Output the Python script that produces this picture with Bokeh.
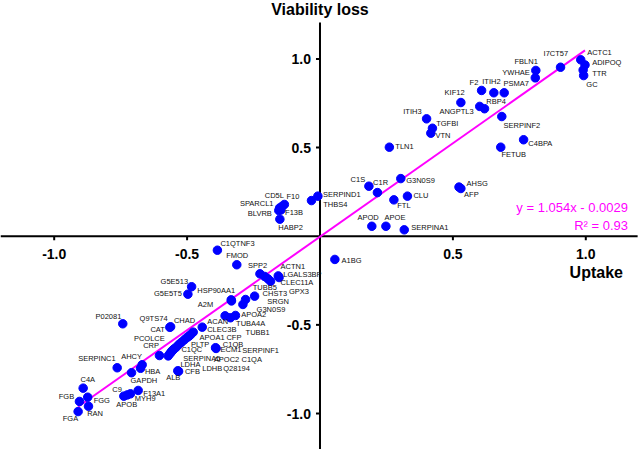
import math
from bokeh.plotting import figure
from bokeh.models import ColumnDataSource
from bokeh.core.properties import value
from bokeh.embed import file_html
from bokeh.resources import INLINE

# ---------------- data ----------------
proteins = [
    "ACTC1", "ADIPOQ", "TTR", "GC", "I7CT57", "FBLN1", "YWHAE", "F2", "ITIH2", "PSMA7",
    "KIF12", "ANGPTL3", "RBP4", "SERPINF2", "ITIH3", "TGFBI", "VTN", "TLN1", "C4BPA", "FETUB",
    "G3N0S9", "C1S", "C1R", "AHSG", "AFP", "CLU", "FTL", "APOD", "APOE", "SERPINA1",
    "SERPIND1", "THBS4", "F10", "CD5L", "SPARCL1", "BLVRB", "F13B", "HABP2", "A1BG",
    "C1QTNF3", "FMOD", "SPP2", "TUBB5", "GPX3", "CLEC11A", "ACTN1", "LGALS3BP", "CHST3", "SRGN",
    "G3N0S9", "HSP90AA1", "A2M", "APOA2", "TUBA4A", "TUBB1", "G5E513", "G5E5T5", "P02081", "Q9TS74",
    "CHAD", "ACAN", "CLEC3B", "APOA1", "CFP", "PLTP", "C1QC", "SERPINF1", "SERPINA5", "APOC2",
    "C1QA", "CAT", "LDHA", "PCOLCE", "LDHB", "Q28194", "CRP", "C1QB", "ECM1", "ALB",
    "CFB", "SERPINC1", "AHCY", "HBA", "GAPDH", "C4A", "FGB", "FGG", "FGA", "RAN",
    "C9", "APOB", "MYH9", "F13A1",
]
uptake = [
    0.981, 0.997, 0.990, 0.992, 0.905, 0.812, 0.810, 0.608, 0.654, 0.693,
    0.530, 0.601, 0.619, 0.684, 0.401, 0.423, 0.417, 0.261, 0.766, 0.680,
    0.304, 0.184, 0.216, 0.523, 0.530, 0.329, 0.278, 0.195, 0.248, 0.317,
    -0.008, -0.032, -0.134, -0.143, -0.152, -0.155, -0.147, -0.151, 0.056,
    -0.386, -0.313, -0.226, -0.208, -0.196, -0.186, -0.157, -0.154, -0.246, -0.280,
    -0.290, -0.334, -0.333, -0.318, -0.337, -0.357, -0.483, -0.497, -0.742, -0.565,
    -0.562, -0.443, -0.477, -0.487, -0.493, -0.500, -0.510, -0.521, -0.531, -0.541,
    -0.550, -0.554, -0.558, -0.561, -0.565, -0.571, -0.604, -0.393, -0.391, -0.535,
    -0.532, -0.763, -0.669, -0.675, -0.709, -0.891, -0.905, -0.874, -0.910, -0.871,
    -0.738, -0.725, -0.713, -0.684,
]
viability = [
    0.995, 0.966, 0.937, 0.906, 0.953, 0.935, 0.893, 0.822, 0.809, 0.809,
    0.754, 0.732, 0.719, 0.675, 0.662, 0.609, 0.581, 0.502, 0.544, 0.502,
    0.325, 0.282, 0.246, 0.277, 0.269, 0.226, 0.205, 0.056, 0.056, 0.036,
    0.226, 0.201, 0.179, 0.168, 0.159, 0.145, 0.148, 0.096, -0.131,
    -0.079, -0.161, -0.212, -0.227, -0.240, -0.254, -0.224, -0.233, -0.338, -0.357,
    -0.385, -0.359, -0.365, -0.447, -0.460, -0.449, -0.285, -0.327, -0.494, -0.514,
    -0.511, -0.513, -0.541, -0.556, -0.564, -0.571, -0.584, -0.598, -0.611, -0.626,
    -0.637, -0.643, -0.649, -0.656, -0.663, -0.675, -0.673, -0.629, -0.633, -0.759,
    -0.762, -0.742, -0.725, -0.745, -0.770, -0.857, -0.932, -0.908, -0.989, -0.959,
    -0.902, -0.895, -0.889, -0.870,
]

fit_slope = 1.054
fit_intercept = -0.0029
fit_r2 = 0.93

x_ticks = [-1.0, -0.5, 0.5, 1.0]
x_tick_labels = ["-1.0", "-0.5", "0.5", "1.0"]
y_ticks = [1.0, 0.5, -0.5, -1.0]
y_tick_labels = ["1.0", "0.5", "-0.5", "-1.0"]

x_title = "Uptake"
y_title = "Viability loss"

# ---------------- layout (label placement in screen pixels) ----------------
label_dx = [
    6.4, 7.2, 9, 2.7, -17, -21.3, -33, -12, -11.6, -0.7,
    -16.3, -40.3, 1.7, 1.7, -23.3, 3.7, 4.7, 6, 4.7, 0.7,
    5.4, -18.3, -4.3, 7.5, 3.2, 6, 3.4, -14.3, -1.3, 7,
    5.2, 11.7, 2, -17.2, -39.7, -31, 4.2, -1.6, 6.7,
    3, -10.6, -12, -12, 21, 10, 2.3, 4.2, 8, 21.7,
    13.7, -34, -33.7, 5.7, 5.7, 20.5, -31, -34, -27.3, -30.2,
    3.3, 5, 14, 9, 37.5, 4, -3, 60.7, 4.4, 37.6,
    67.7, -22.3, 8.7, -37, 32.4, 55, -16.3, 7.3, 4.5, -11.6,
    6.3, -39, -21, 4.3, -1, -2.7, -20.7, 6, -15.4, -1.3,
    -11.6, -11, 4.3, 5,
]
label_dy = [
    -7, -2.5, 3.8, 9, -13.4, -9, -5.3, -8.3, -11.6, -9,
    -9.7, 4.7, -7.6, 8.7, -7.3, -4.4, 2.6, -0.7, 4, 7.6,
    2.3, -6.7, -10.3, -3.5, 6, -0.7, 5.4, -8.7, -8.4, -2,
    -1.5, 4, -8.3, -11, -4.2, 2.7, 2.2, 8, 1,
    -6.4, -9.3, -8.6, 10.7, 12.7, 1.3, -9.5, -3.3, -2.4, 2,
    4.7, -9, 3.8, -0.7, 6, 16.4, -5.6, -0.4, -7.3, -8.5,
    -6.3, -6, -2.7, 3, 1.6, 6.7, 9.7, 8.3, 13.7, 12.6,
    10.6, -20.4, 13.6, -14.3, 15, 13, -10, -3.6, 1, 6.4,
    0.5, -9, -8.3, 3, 7.7, -8.7, -5, 3.3, 6.7, 7.3,
    -6.7, 10, 5, 3.3,
]

W, H = 640, 449
X_RANGE = (-1.2020, 1.2058)
Y_RANGE = (-1.2030, 1.3294)
X_AXIS_RIGHT = 1.195
Y_AXIS_TOP = 1.205

FONT = value("Liberation Sans")

p = figure(width=W, height=H, output_backend="svg", toolbar_location=None,
           x_range=X_RANGE, y_range=Y_RANGE,
           x_axis_location=None, y_axis_location=None,
           min_border=0, outline_line_color=None, background_fill_color="white",
           border_fill_color="white")
p.grid.visible = False

# axes through the origin
p.segment(x0=[X_RANGE[0]], y0=[0], x1=[X_AXIS_RIGHT], y1=[0], line_color="black", line_width=2)
p.segment(x0=[0], y0=[Y_RANGE[0]], x1=[0], y1=[Y_AXIS_TOP], line_color="black", line_width=2)

# tick marks
p.ray(x=x_ticks, y=[0] * len(x_ticks), length=4, length_units="screen",
      angle=-math.pi / 2, line_color="black", line_width=2)
p.ray(x=[0] * len(y_ticks), y=y_ticks, length=4, length_units="screen",
      angle=math.pi, line_color="black", line_width=2)

# tick labels
p.text(x=x_ticks, y=[0] * len(x_ticks), text=x_tick_labels, y_offset=18,
       text_align="center", text_baseline="middle", text_font=FONT,
       text_font_size="14px", text_font_style="bold", text_color="black")
p.text(x=[0] * len(y_ticks), y=y_ticks, text=y_tick_labels, x_offset=-9,
       text_align="right", text_baseline="middle", text_font=FONT,
       text_font_size="14px", text_font_style="bold", text_color="black")

# axis titles
p.text(x=[0], y=[Y_RANGE[1]], text=[y_title], y_offset=0,
       text_align="center", text_baseline="top", text_font=FONT,
       text_font_size="16px", text_font_style="bold", text_color="black")
p.text(x=[x_ticks[-1]], y=[0], text=[x_title], x_offset=10.5, y_offset=36,
       text_align="center", text_baseline="middle", text_font=FONT,
       text_font_size="16px", text_font_style="bold", text_color="black")

# regression line
fx = [min(uptake), max(uptake)]
fy = [fit_slope * v + fit_intercept for v in fx]
p.line(fx, fy, line_color="#FF00FF", line_width=2)

# points
src = ColumnDataSource(dict(x=uptake, y=viability, name=proteins,
                            dx=label_dx, dy=label_dy))
p.scatter("x", "y", source=src, size=8.5, fill_color="#0000FF", line_color="#0000FF")
p.text("x", "y", text="name", source=src, x_offset="dx", y_offset="dy",
       text_align="left", text_baseline="middle", text_font=FONT,
       text_font_size="7.5px", text_color="#111111")

# equation
sign = "-" if fit_intercept < 0 else "+"
eq = f"y = {fit_slope:.3f}x {sign} {abs(fit_intercept):.4f}"
p.text(x=[X_RANGE[1]], y=[0], text=[eq], x_offset=-12.5, y_offset=-28.5,
       text_align="right", text_baseline="middle", text_font=FONT,
       text_font_size="13px", text_color="#FF00FF")
p.text(x=[X_RANGE[1]], y=[0], text=[f"R\u00b2 = {fit_r2:.2f}"], x_offset=-12.5, y_offset=-10.5,
       text_align="right", text_baseline="middle", text_font=FONT,
       text_font_size="13px", text_color="#FF00FF")

open("out.html", "w").write(file_html(p, INLINE))
